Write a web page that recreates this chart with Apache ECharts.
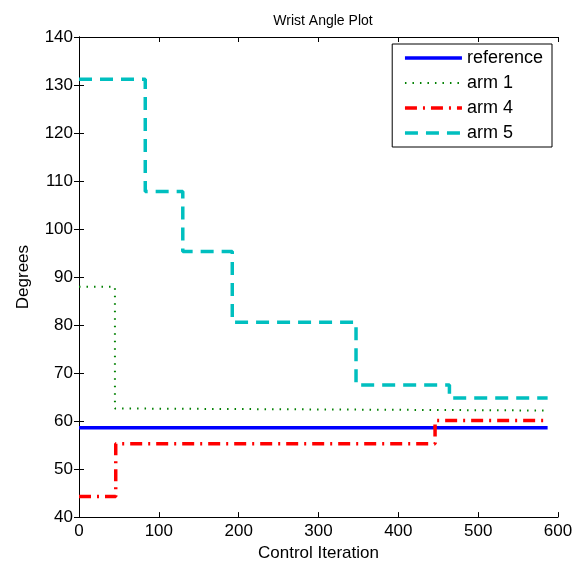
<!DOCTYPE html>
<html>
<head>
<meta charset="utf-8">
<script src="https://cdn.jsdelivr.net/npm/echarts@6/dist/echarts.min.js"></script>
<style>html,body{margin:0;padding:0;background:#fff}#main{width:576px;height:567px}</style>
</head>
<body>
<div id="main"></div>
<script>
// step change points (x = iteration where a value starts)
var refX = [0, 587];
var refY = [58.6, 58.6];
var arm1X = [0, 45, 84, 587];
var arm1Y = [88, 62.6, 62.2, 62.2];
var arm4X = [0, 46, 446, 587];
var arm4Y = [44.3, 55.3, 60.1, 60.1];
var arm5X = [0, 83, 130, 192, 347, 464, 587];
var arm5Y = [131.2, 107.8, 95.3, 80.6, 67.5, 64.8, 64.8];
var seriesNames = ['reference', 'arm 1', 'arm 4', 'arm 5'];

function pairs(xs, ys) {
	var out = [];
	for (var i = 0; i < xs.length; i++) out.push([xs[i], ys[i]]);
	return out;
}

var font = 'Liberation Sans, Arial, sans-serif';
function axisCommon() {
	return {
		axisLine: {lineStyle: {color: '#000', width: 1}},
		axisTick: {inside: true, length: 5, lineStyle: {color: '#000'}},
		splitLine: {show: false}
	};
}

var styles = [
	{color: '#0000ff', width: 3.5, type: 'solid'},
	{color: '#008000', width: 2, type: [1.5, 6]},
	{color: '#ff0000', width: 3.5, type: [12, 6, 2, 6]},
	{color: '#00bfbf', width: 3.5, type: [13, 8]}
];
var allX = [refX, arm1X, arm4X, arm5X];
var allY = [refY, arm1Y, arm4Y, arm5Y];

var series = seriesNames.map(function (n, i) {
	return {
		name: n, type: 'line', step: 'end', symbol: 'none', showSymbol: false,
		data: pairs(allX[i], allY[i]),
		lineStyle: styles[i],
		itemStyle: {color: styles[i].color}
	};
});

echarts.init(document.getElementById('main')).setOption({
	animation: false,
	title: {text: 'Wrist Angle Plot', left: 318, textAlign: 'center', top: 9,
		textStyle: {fontFamily: font, fontSize: 14, fontWeight: 'normal', color: '#000'}},
	grid: {left: 79, right: 18, top: 37, bottom: 48},
	legend: {
		orient: 'vertical', right: 24, top: 44,
		backgroundColor: '#fff', borderColor: '#000', borderWidth: 1,
		padding: [5, 9, 5, 11], itemGap: 7, itemWidth: 57, itemHeight: 18,
		itemStyle: {opacity: 0},
		textStyle: {fontFamily: font, fontSize: 18, color: '#000'},
		data: seriesNames.map(function (n, i) {
			return {name: n, lineStyle: {width: styles[i].width, type: styles[i].type, color: styles[i].color}};
		})
	},
	xAxis: [
		Object.assign({type: 'value', min: 0, max: 600, interval: 100,
			name: 'Control Iteration', nameLocation: 'middle', nameGap: 22,
			nameTextStyle: {fontFamily: font, fontSize: 17, color: '#000'},
			axisLabel: {fontFamily: font, fontSize: 17, color: '#000', margin: 6}}, axisCommon()),
		Object.assign({type: 'value', min: 0, max: 600, interval: 100, position: 'top',
			axisLabel: {show: false}}, axisCommon())
	],
	yAxis: [
		Object.assign({type: 'value', min: 40, max: 140, interval: 10,
			name: 'Degrees', nameLocation: 'middle', nameGap: 47,
			nameTextStyle: {fontFamily: font, fontSize: 17, color: '#000'},
			axisLabel: {fontFamily: font, fontSize: 17, color: '#000', margin: 6}}, axisCommon()),
		Object.assign({type: 'value', min: 40, max: 140, interval: 10, position: 'right',
			axisLabel: {show: false}}, axisCommon())
	],
	series: series
});
</script>
</body>
</html>
